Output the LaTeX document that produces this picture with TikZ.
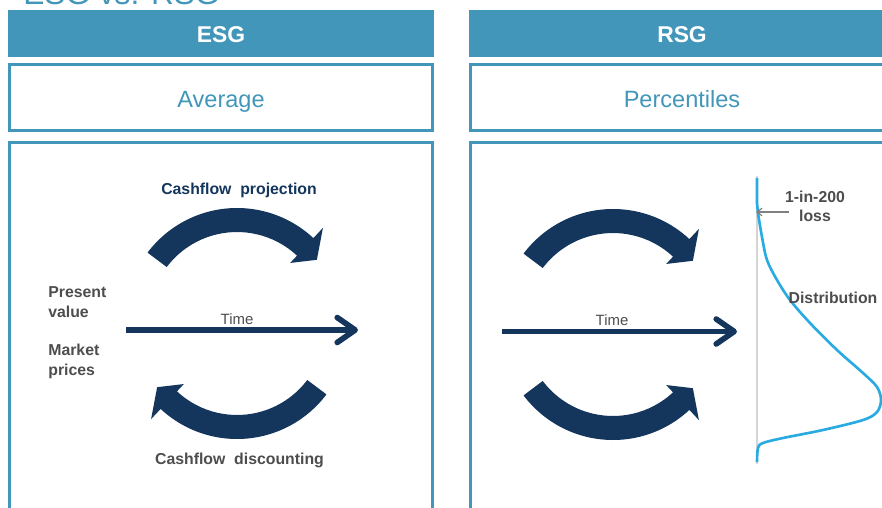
\documentclass[tikz,border=0pt]{standalone}
\usepackage{fontspec}
\setmainfont{Liberation Sans}
\usetikzlibrary{arrows.meta, calc}
\definecolor{cHead}{RGB}{65,150,186}
\definecolor{cNavy}{RGB}{20,54,92}
\definecolor{cText}{RGB}{77,77,77}
\definecolor{cCurve}{RGB}{41,170,225}
\definecolor{cAxis}{RGB}{212,212,212}
\tikzset{
	hdrbar/.style={rectangle, fill=cHead, minimum width=8.52cm, minimum height=0.94cm, text=white, font=\fontsize{13}{15}\selectfont\bfseries, text height=10.6pt, text depth=0pt, inner sep=0pt},
	subbox/.style={rectangle, draw=cHead, line width=1.7pt, minimum width=8.46cm, minimum height=1.32cm, text=cHead, font=\fontsize{13.4}{15}\selectfont, text height=10.9pt, text depth=0pt, inner sep=0pt},
	panel/.style={rectangle, draw=cHead, line width=1.7pt, minimum width=8.46cm, minimum height=7.55cm, inner sep=0pt},
	sidelbl/.style={font=\fontsize{9}{11.3}\selectfont\bfseries, text=cText, align=left, inner sep=0pt},
	steplbl/.style={font=\fontsize{9}{10.8}\selectfont\bfseries, align=center, inner sep=0pt},
	timelbl/.style={font=\fontsize{8.5}{10}\selectfont, text=cText, inner sep=0pt},
	timearrow/.style={-{Straight Barb[length=0.36cm, width=0.5cm, line cap=round, line join=round]}, line width=3.2pt, draw=cNavy},
	lossarrow/.style={-{Straight Barb[length=0.1cm, width=0.15cm]}, line width=0.7pt, draw=gray},
	distcurve/.style={draw=cCurve, line width=1.5pt},
}
% thick bent arrow: centre, start angle, end angle, tip angle
\newcommand{\bentarrow}[4]{%
	\fill[cNavy] ($(#1)+(#2:112)$) arc[start angle=#2, end angle=#3, radius=112]
		-- ($(#1)+(#3:126)$) -- ($(#1)+(#4:100)$) -- ($(#1)+(#3:78)$)
		-- ($(#1)+(#3:88)$) arc[start angle=#3, end angle=#2, radius=88] -- cycle;%
}

\begin{document}
\begin{tikzpicture}[x=0.02cm, y=-0.02cm]
	\useasboundingbox (0,0) rectangle (882,507);
	\clip (0,0) rectangle (882,507);
	\node[anchor=base west, inner sep=0pt, text=cHead, font=\fontsize{18}{20}\selectfont] (title) at (23,4.5) {ESG vs. RSG};

	\node[hdrbar] (esg) at (221,33.5) {ESG};
	\node[hdrbar] (rsg) at (682,33.5) {RSG};
	\node[subbox] (avg) at (221,97.5) {Average};
	\node[subbox] (pct) at (682,97.5) {Percentiles};
	\node[panel] (esgpanel) at (221,331.25) {};
	\node[panel] (rsgpanel) at (682,331.25) {};

	% ESG side
	\coordinate (ctop) at (237,320);
	\coordinate (cbot) at (237,327);
	\bentarrow{ctop}{-143}{-47}{-37}
	\bentarrow{cbot}{37}{133}{143}
	\node[steplbl, text=cNavy] (proj) at (239,190.5) {Cashflow~ projection};
	\node[steplbl, text=cText] (disc) at (239.5,460.5) {Cashflow~ discounting};
	\node[sidelbl, anchor=west] (pv) at (48,302) {Present\\value};
	\node[sidelbl, anchor=west] (mp) at (48,361) {Market\\prices};
	\coordinate (t1a) at (126,330);
	\coordinate (t1b) at (358,330);
	\draw[timearrow] (t1a) -- (t1b);
	\node[timelbl] (time1) at (237,319) {Time};

	% RSG side
	\coordinate (rtop) at (613,321);
	\coordinate (rbot) at (613,328);
	\bentarrow{rtop}{-143}{-47}{-37}
	\bentarrow{rbot}{143}{47}{37}
	\coordinate (t2a) at (502,331.5);
	\coordinate (t2b) at (737,331.5);
	\draw[timearrow] (t2a) -- (t2b);
	\node[timelbl] (time2) at (612,320.5) {Time};

	\coordinate (axtop) at (757,176);
	\coordinate (axbot) at (757,464);
	\draw[cAxis, line width=0.7pt] (axtop) -- (axbot);
	\draw[distcurve] plot[smooth, tension=0.55] coordinates {
		(757,178) (757,203) (758,213) (762,237) (767,260) (777,280) (790,300)
		(810,323) (837,350) (863,373) (877,387) (881,400) (877,412) (863,420)
		(823,430) (783,438) (763,443) (758,448) (757,462)};
	\node[steplbl, text=cText] (loss) at (815,206) {1-in-200\\loss};
	\coordinate (lossa) at (789,212);
	\coordinate (lossb) at (756,212);
	\draw[lossarrow] (lossa) -- (lossb);
	\node[steplbl, text=cText] (dist) at (833,298) {Distribution};
\end{tikzpicture}
\end{document}
